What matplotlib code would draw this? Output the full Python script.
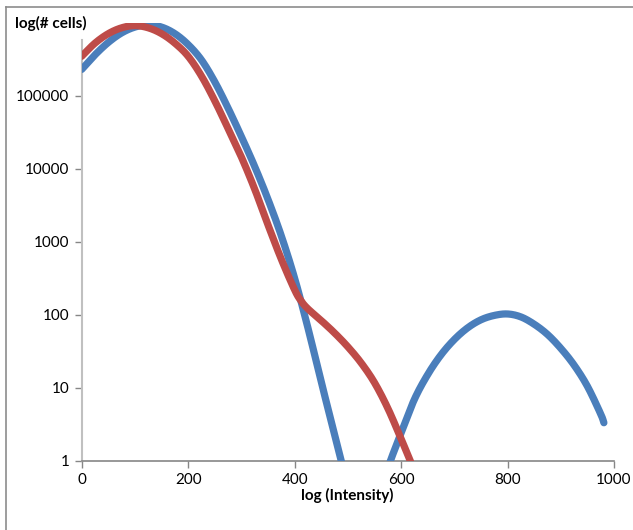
import numpy as np
import matplotlib
matplotlib.use("Agg")
import matplotlib.pyplot as plt
from matplotlib.lines import Line2D

# Data (x = log intensity, y = log10 of # cells)
blue_x = [0, 25, 50, 75, 100, 125, 150, 175, 200, 225, 250, 275, 300, 325, 350,
          375, 400, 425, 450, 475, 500]
blue_logy = [5.36, 5.56, 5.73, 5.86, 5.94, 5.97, 5.94, 5.85, 5.70, 5.49, 5.19, 4.83,
             4.44, 4.03, 3.58, 3.08, 2.50, 1.82, 1.08, 0.36, -0.36]

blue2_x = [565, 580, 600, 625, 650, 675, 700, 725, 750, 775, 800, 825, 850, 875,
           900, 925, 950, 975, 981]
blue2_logy = [-0.30, 0.00, 0.38, 0.84, 1.18, 1.45, 1.66, 1.82, 1.93, 1.99, 2.01,
              1.97, 1.87, 1.73, 1.54, 1.31, 1.02, 0.64, 0.52]

red_x = [0, 25, 50, 75, 100, 125, 150, 175, 200, 225, 250, 275, 300, 325, 350,
         375, 400, 412, 425, 450, 475, 500, 525, 550, 575, 600, 620]
red_logy = [5.54, 5.72, 5.85, 5.93, 5.96, 5.93, 5.85, 5.72, 5.54, 5.27, 4.93, 4.55,
            4.16, 3.72, 3.23, 2.76, 2.34, 2.19, 2.08, 1.92, 1.75, 1.56, 1.34, 1.07,
            0.72, 0.30, -0.05]

x_ticks = [0, 200, 400, 600, 800, 1000]
y_ticks = [1, 10, 100, 1000, 10000, 100000]
y_tick_labels = ["1", "10", "100", "1000", "10000", "100000"]

BLUE = "#4a7ebb"
RED = "#be4b48"


def smooth(xs, ys, n=20):
    """Catmull-Rom rendering through the given points (like a smoothed line)."""
    xs = np.asarray(xs, float); ys = np.asarray(ys, float)
    P = np.column_stack([xs, ys])
    P = np.vstack([P[0] - (P[1] - P[0]), P, P[-1] + (P[-1] - P[-2])])
    out = []
    t = np.linspace(0, 1, n, endpoint=False)[:, None]
    for i in range(1, len(P) - 2):
        p0, p1, p2, p3 = P[i - 1], P[i], P[i + 1], P[i + 2]
        seg = 0.5 * ((2 * p1) + (-p0 + p2) * t + (2 * p0 - 5 * p1 + 4 * p2 - p3) * t ** 2
                     + (-p0 + 3 * p1 - 3 * p2 + p3) * t ** 3)
        out.append(seg)
    out.append(P[-2][None, :])
    out = np.vstack(out)
    return out[:, 0], out[:, 1]


plt.rcParams['font.family'] = ['Lato', 'DejaVu Sans']

W, H = 633, 530
fig = plt.figure(figsize=(W / 100, H / 100), dpi=100)

# outer chart border (top and left visible)
fig.add_artist(Line2D([5.5 / W, 5.5 / W], [0, 1 - 7 / H], transform=fig.transFigure,
                      color="#8c8c8c", lw=1.2))
fig.add_artist(Line2D([5.5 / W, 1], [1 - 7 / H, 1 - 7 / H], transform=fig.transFigure,
                      color="#8c8c8c", lw=1.2))

left, right = 81.7 / W, 614 / W
bottom, top = 1 - 460.7 / H, 1 - 22.7 / H
ax = fig.add_axes([left, bottom, right - left, top - bottom])
ax.set_yscale('log')
ax.set_xlim(0, 1000)
ax.set_ylim(1, 1e6)

for xs, ys, col, z in [(blue_x, blue_logy, BLUE, 3), (blue2_x, blue2_logy, BLUE, 3),
                       (red_x, red_logy, RED, 4)]:
    sx, sy = smooth(xs, ys)
    ax.plot(sx, 10 ** sy, color=col, lw=5.2, solid_capstyle='round',
            solid_joinstyle='round', zorder=z)

for s in ['top', 'right']:
    ax.spines[s].set_visible(False)
ax.spines['left'].set_color('#c0c0c0')
ax.spines['left'].set_linewidth(1.5)
ax.spines['left'].set_bounds(1, 10 ** 5.76)
ax.spines['bottom'].set_color('#868686')
ax.spines['bottom'].set_linewidth(1.2)

ax.set_xticks(x_ticks)
ax.set_xticklabels([str(v) for v in x_ticks])
ax.set_yticks(y_ticks)
ax.set_yticklabels(y_tick_labels)
ax.yaxis.set_minor_locator(matplotlib.ticker.NullLocator())
ax.tick_params(axis='x', direction='out', length=5, width=1, color='#868686',
               labelsize=11, pad=4)
ax.tick_params(axis='y', direction='out', length=5, width=1, color='#868686',
               labelsize=11, pad=4)

fig.text(15 / W, 1 - 23 / H, "log(# cells)", fontsize=11, fontweight='bold',
         ha='left', va='center')
fig.text(347 / W, 1 - 495 / H, "log (Intensity)", fontsize=11, fontweight='bold',
         ha='center', va='center')

fig.savefig("out.png", dpi=100)
